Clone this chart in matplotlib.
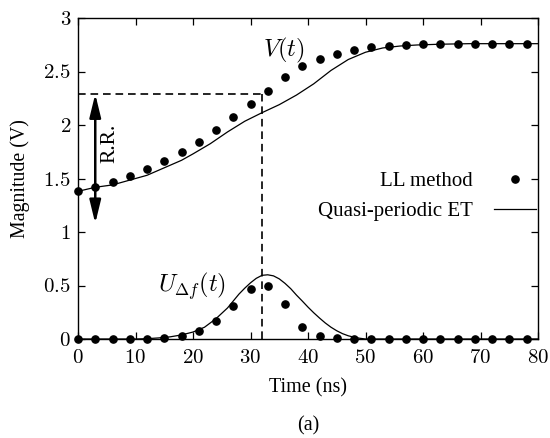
import matplotlib
matplotlib.use("Agg")
import matplotlib.pyplot as plt
from matplotlib.ticker import FuncFormatter, MultipleLocator
from matplotlib.patches import FancyArrowPatch

plt.rcParams['mathtext.fontset'] = 'cm'
plt.rcParams['font.family'] = ['Liberation Serif', 'DejaVu Serif']
plt.rcParams['lines.scale_dashes'] = False

# LL method samples (every 3 ns)
t_ll = [0, 3, 6, 9, 12, 15, 18, 21, 24, 27, 30, 33, 36, 39, 42, 45, 48, 51,
        54, 57, 60, 63, 66, 69, 72, 75, 78]
v_ll = [1.38, 1.418, 1.471, 1.524, 1.589, 1.667, 1.751, 1.845, 1.955, 2.078,
        2.196, 2.322, 2.446, 2.553, 2.618, 2.666, 2.702, 2.727, 2.74, 2.752,
        2.758, 2.76, 2.76, 2.76, 2.76, 2.76, 2.76]
u_ll = [0, 0, 0, 0, 0.002, 0.012, 0.031, 0.075, 0.168, 0.313, 0.467, 0.498,
        0.326, 0.116, 0.028, 0.006, 0.002, 0, 0, 0, 0, 0, 0, 0, 0, 0, 0]

# Quasi-periodic ET curves
t_v = [0, 3, 6, 9, 12, 15, 18, 20, 23, 26, 29, 32, 35, 38, 41, 44, 47, 50,
       53, 56, 59, 63, 68, 80]
v_et = [1.38, 1.418, 1.44, 1.485, 1.53, 1.6, 1.67, 1.73, 1.825, 1.935, 2.035,
        2.115, 2.19, 2.28, 2.385, 2.51, 2.612, 2.68, 2.72, 2.738, 2.748,
        2.755, 2.76, 2.76]
t_u = [0, 10, 12, 14, 16, 18, 20, 22, 24, 25, 26, 27, 28, 29, 30, 31, 32, 33,
       34, 35, 36, 37, 38, 39, 40, 41, 42, 43, 44, 45, 46, 47, 48, 49, 50, 80]
u_et = [0, 0, 0.003, 0.01, 0.02, 0.038, 0.065, 0.11, 0.19, 0.24, 0.29, 0.355,
        0.42, 0.475, 0.525, 0.567, 0.595, 0.6, 0.59, 0.562, 0.52, 0.47, 0.41,
        0.355, 0.298, 0.245, 0.196, 0.15, 0.11, 0.077, 0.05, 0.03, 0.017,
        0.007, 0, 0]

fig = plt.figure(figsize=(5.5, 4.38), dpi=100)
ax = fig.add_axes([78/550, 1-339/438, 460/550, 321/438])

ax.plot(t_v, v_et, color='black', lw=0.9, label='Quasi-periodic ET')
ax.plot(t_u, u_et, color='black', lw=0.9)
ax.plot(t_ll, v_ll, 'o', color='black', ms=5.2, label='LL method', clip_on=False)
ax.plot(t_ll, u_ll, 'o', color='black', ms=5.2, clip_on=False)

# dashed guide lines
ax.plot([0, 32], [2.29, 2.29], color='black', lw=1.2, dashes=(5.5, 3.5))
ax.plot([32, 32], [0, 2.29], color='black', lw=1.2, dashes=(5.5, 3.5))

# R.R. double arrow
arr = FancyArrowPatch((3, 2.29), (3, 1.08),
                      arrowstyle='<|-|>,head_length=14,head_width=3.4',
                      mutation_scale=1, color='black', lw=1.8,
                      shrinkA=0, shrinkB=0)
ax.add_patch(arr)
ax.text(5.6, 1.83, 'R.R.', rotation=90, ha='center', va='center', fontsize=15.5)

ax.text(35.7, 2.70, r'$V(t)$', ha='center', va='center', fontsize=17.5)
ax.text(19.9, 0.49, r'$U_{\Delta f}(t)$', ha='center', va='center', fontsize=17.5)

ax.set_xlim(0, 80)
ax.set_ylim(0, 3)
ax.xaxis.set_major_locator(MultipleLocator(10))
ax.yaxis.set_major_locator(MultipleLocator(0.5))
fmt = FuncFormatter(lambda v, p: f'${v:g}$')
ax.xaxis.set_major_formatter(fmt)
ax.yaxis.set_major_formatter(fmt)
ax.tick_params(direction='in', top=True, right=True, length=5, width=0.9,
               labelsize=15)
ax.tick_params(axis='x', pad=7)
ax.tick_params(axis='y', pad=5)
for s in ax.spines.values():
    s.set_linewidth(1.0)

ax.set_ylabel('Magnitude (V)', fontsize=14.3, labelpad=10)
fig.text(308/550, 1-388/438, 'Time (ns)', ha='center', va='center', fontsize=14.5)
fig.text(308/550, 1-426/438, '(a)', ha='center', va='center', fontsize=14.5)

handles, labels = ax.get_legend_handles_labels()
ax.legend(handles[::-1], labels[::-1], loc='center right',
          bbox_to_anchor=(0.995, 0.445), frameon=False, markerfirst=False,
          fontsize=15, handlelength=2.0, handletextpad=1.0, borderpad=0,
          borderaxespad=0, labelspacing=0.5)

fig.savefig('out.png', dpi=100)
